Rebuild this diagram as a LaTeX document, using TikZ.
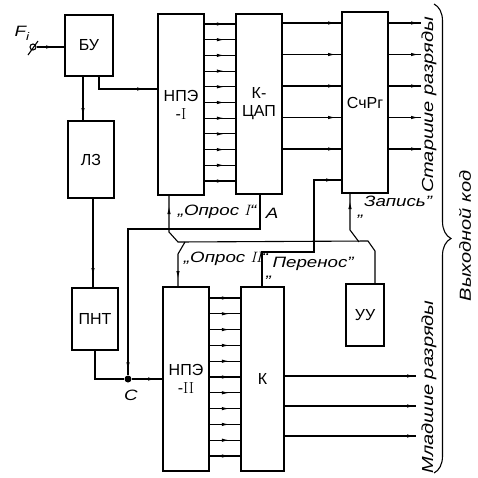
\documentclass[tikz,border=0pt]{standalone}
\usepackage{fontspec}
\newfontfamily\gost{Liberation Sans}
\newfontfamily\gostwide[FakeStretch=1.25]{Liberation Sans}
\usepackage{tikz}
\usetikzlibrary{arrows.meta,decorations.markings,decorations.pathreplacing,calc}

\begin{document}
\begin{tikzpicture}[x=1pt, y=-1pt,
  every node/.style={font=\gost\fontsize{16}{18}\selectfont},
  block/.style={draw, line width=2pt, align=center, inner sep=0pt},
  wire/.style={line width=1.1pt},
  arrowat/.style={postaction={decorate}, decoration={markings,
    mark=at position #1 with {\arrow{Latex[length=8pt,width=3.4pt]}}}},
  sig/.style={font=\gostwide\itshape\fontsize{15}{16}\selectfont, inner sep=0pt},
  side/.style={font=\gostwide\itshape\fontsize{16}{18}\selectfont, rotate=90, inner sep=0pt}
]
\useasboundingbox (0,0) rectangle (478,477);

\node[block, minimum width=48, minimum height=61] (bu) at (89,45.5) {БУ};
\node[block, minimum width=46, minimum height=77] (lz) at (91,159.5) {ЛЗ};
\node[block, minimum width=46, minimum height=62] (pnt) at (95,319) {ПНТ};
\node[block, minimum width=46, minimum height=181] (npe1) at (181,104.5) {НПЭ\\-\textrm{I}};
\node[block, minimum width=46, minimum height=180] (kcap) at (259,104) {К-\\ЦАП};
\node[block, minimum width=46, minimum height=181] (schrg) at (365,102.5) {СчРг};
\node[block, minimum width=46, minimum height=184] (npe2) at (186,379) {НПЭ\\-\textrm{II}};
\node[block, minimum width=43, minimum height=184] (k) at (262.5,379) {К};
\node[block, minimum width=38, minimum height=62] (uu) at (365,315) {УУ};

\node[draw, circle, wire, minimum size=6, inner sep=0pt] (fi) at (33,47) {};
\draw[wire] ($(fi)+(-5,8)$) -- ($(fi)+(5,-6)$);
\node[sig] (filabel) at (22,33) {F\raisebox{-0.5ex}{\fontsize{11}{12}\selectfont i}};
\draw[wire, arrowat=-10pt] (fi) -- (bu.west |- fi);

\draw[wire, arrowat=-4pt] ([xshift=-6]bu.south) -- ([xshift=-6]bu.south |- lz.north);
\draw[wire, arrowat=-12pt] ([xshift=10]bu.south) |- (npe1.west |- 0,89);
\draw[wire, arrowat=-11pt] ([xshift=2]lz.south) -- ([xshift=2]lz.south |- pnt.north);

\node[circle, fill, inner sep=0pt, minimum size=7] (c) at (128,379) {};
\node[sig] (clabel) at (131,395) {C};
\draw[wire] (pnt.south) |- (c);
\draw[wire, arrowat=-6pt] (c) -- (npe2.west |- c);
\draw[wire, arrowat=-5pt] ([xshift=1]kcap.south) -- ++(0,34) -| (c);
\node[sig] (alabel) at (272,213) {A};

\foreach \i [evaluate=\i as \yy using 24+15.7*\i] in {0,...,10}
  \draw[wire, arrowat=0.66] (npe1.east |- 0,\yy) -- (kcap.west |- 0,\yy);
\foreach \i [evaluate=\i as \yy using 298+15.8*\i] in {0,...,10}
  \draw[wire, arrowat=0.66] (npe2.east |- 0,\yy) -- (k.west |- 0,\yy);
\foreach \i [evaluate=\i as \yy using 23+31.5*\i] in {0,...,4} {
  \draw[wire, arrowat=-5pt] (kcap.east |- 0,\yy) -- (schrg.west |- 0,\yy);
  \draw[wire, arrowat=-2pt] (schrg.east |- 0,\yy) -- ++(32,0);
}
\foreach \yy in {376,406,436}
  \draw[wire, arrowat=-1pt] (k.east |- 0,\yy) -- ++(131,0);

\coordinate (jz) at (359,242);
\coordinate (j2) at (185,242);
\draw[wire, arrowat=-10pt] ([xshift=10]uu.north) -- ++(0,-32) -- ++(-7,-10)
  -- (178,242) -- ++(-9,-10) -- ([xshift=-12]npe1.south);
\draw[wire, arrowat=-7pt] (jz) -- ++(-9,-12) -- ([xshift=-15]schrg.south);
\draw[wire, arrowat=-7pt] (j2) -- ++(-7,12) -- ([xshift=-8]npe2.north);
\draw[wire, arrowat=-7pt] ([xshift=-0.5]k.north) -- ++(0,-34) -- ++(52,0) |- (schrg.west |- 0,180);

\node[sig] (opros1) at (217,212) {„Опрос \textrm{I}“};
\node[sig] (opros2) at (226,259) {„Опрос \textrm{II}“};
\node[sig] (perenos) at (310,268) {\raisebox{-1.3ex}{„}Перенос”};
\node[sig] (zapis) at (395,207) {\raisebox{-1.2ex}{„}Запись”};

\draw[wire, decorate, decoration={brace, amplitude=17pt}] (434,4) -- (434,473);
\node[side] (hi) at (429,105) {Старшие разряды};
\node[side] (lo) at (429,387) {Младшие разряды};
\node[side] (out) at (465,236) {Выходной код};
\end{tikzpicture}
\end{document}
